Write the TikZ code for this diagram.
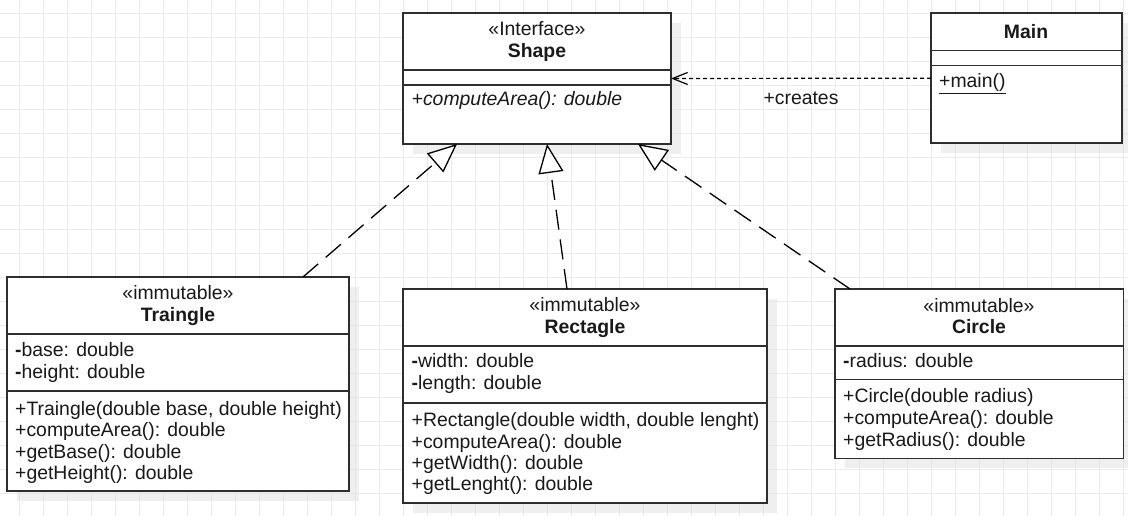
\documentclass[tikz,border=0pt]{standalone}
\usepackage{fontspec}
\setmainfont{Liberation Sans}
\usetikzlibrary{arrows.meta,shadows}
\newcommand\umlsize{\fontsize{19.4}{21.5}\selectfont}
\tikzset{
  gridline/.style={draw=black!8, line width=0.8pt},
  classbox/.style={draw=black!82, line width=1.6pt, fill=white, anchor=north west,
    inner sep=0pt, outer sep=0pt,
    drop shadow={shadow xshift=10pt, shadow yshift=-10pt, fill=black!12, opacity=0.5}},
  compart/.style={draw=black!82, line width=1.6pt},
  member/.style={anchor=base west, inner sep=0pt, font=\umlsize, text=black!90},
  stereo/.style={anchor=base, inner sep=0pt, font=\umlsize, text=black!90},
  classname/.style={stereo, font=\umlsize\bfseries},
  realizes/.style={draw=black, line width=1.3pt, dash pattern=on 20pt off 10pt,
    -{Triangle[open, fill=white, length=29pt, width=25pt]}},
  depends/.style={draw=black, line width=1.2pt, dash pattern=on 4pt off 3pt,
    -{Straight Barb[length=15pt, width=12pt]}}
}
\begin{document}
\begin{tikzpicture}[x=1pt, y=-1pt]
  \useasboundingbox (0,0) rectangle (1128,516);
  \fill[white] (0,0) rectangle (1128,516);
  \foreach \gx in {0,...,46}
    \draw[gridline] ({19.3+24*\gx},0) -- ({19.3+24*\gx},516);
  \foreach \gy in {0,...,20}
    \draw[gridline] (0,{13.3+24*\gy}) -- (1128,{13.3+24*\gy});

  \node[classbox, minimum width=268pt, minimum height=131pt] (shp) at (403,13) {};
  \node[classbox, minimum width=190.7pt, minimum height=130.3pt] (mn) at (931,13) {};
  \node[classbox, minimum width=341.7pt, minimum height=214pt] (trg) at (7,277) {};
  \node[classbox, minimum width=363.7pt, minimum height=213.7pt] (rct) at (403,289) {};
  \node[classbox, minimum width=288.3pt, minimum height=169.3pt] (crc) at (835,289) {};

  \draw[compart] (403,70) -- (671,70);
  \draw[compart] (403,85) -- (671,85);
  \draw[compart] (931,50.7) -- (1121.7,50.7);
  \draw[compart] (931,65.7) -- (1121.7,65.7);
  \draw[compart] (7,334) -- (348.7,334);
  \draw[compart] (7,390.7) -- (348.7,390.7);
  \draw[compart] (403,345.7) -- (766.7,345.7);
  \draw[compart] (403,402.7) -- (766.7,402.7);
  \draw[compart] (835,346) -- (1123.3,346);
  \draw[compart] (835,379.3) -- (1123.3,379.3);

  \node[stereo] (shp-st) at (537,35.3) {«Interface»};
  \node[classname] (shp-nm) at (537,57.3) {Shape};
  \node[member, font=\umlsize\itshape] (shp-m1) at (411.5,106) {+computeArea(): double};

  \node[classname] (mn-nm) at (1026,38.3) {Main};
  \node[member] (mn-m1) at (939,87.3) {\underline{+main()}};

  \node[stereo] (trg-st) at (178,299.5) {«immutable»};
  \node[classname] (trg-nm) at (178,321) {Traingle};
  \node[member] (trg-a1) at (15,356.5) {\textbf{-}base: double};
  \node[member] (trg-a2) at (15,378) {\textbf{-}height: double};
  \node[member] (trg-m1) at (15,415) {+Traingle(double base, double height)};
  \node[member] (trg-m2) at (15,436.5) {+computeArea(): double};
  \node[member] (trg-m3) at (15,458) {+getBase(): double};
  \node[member] (trg-m4) at (15,479.5) {+getHeight(): double};

  \node[stereo] (rct-st) at (585,311) {«immutable»};
  \node[classname] (rct-nm) at (585,333.3) {Rectagle};
  \node[member] (rct-a1) at (411.5,367.5) {\textbf{-}width: double};
  \node[member] (rct-a2) at (411.5,389) {\textbf{-}length: double};
  \node[member] (rct-m1) at (411.5,426.7) {+Rectangle(double width, double lenght)};
  \node[member] (rct-m2) at (411.5,448) {+computeArea(): double};
  \node[member] (rct-m3) at (411.5,469.2) {+getWidth(): double};
  \node[member] (rct-m4) at (411.5,490.6) {+getLenght(): double};

  \node[stereo] (crc-st) at (979,312.5) {«immutable»};
  \node[classname] (crc-nm) at (979,333.3) {Circle};
  \node[member] (crc-a1) at (843,367.3) {\textbf{-}radius: double};
  \node[member] (crc-m1) at (843,402.5) {+Circle(double radius)};
  \node[member] (crc-m2) at (843,424.5) {+computeArea(): double};
  \node[member] (crc-m3) at (843,446.5) {+getRadius(): double};

  \draw[realizes] ([xshift=296pt]trg.north west) -- ([xshift=54pt]shp.south west);
  \draw[realizes] ([xshift=164pt]rct.north west) -- ([xshift=144pt]shp.south west);
  \draw[realizes] ([xshift=15pt]crc.north west) -- ([xshift=-33pt]shp.south east);
  \draw[depends] (mn.west) -- node[stereo, yshift=-26pt] (crt) {+creates} (shp.east);
\end{tikzpicture}
\end{document}
